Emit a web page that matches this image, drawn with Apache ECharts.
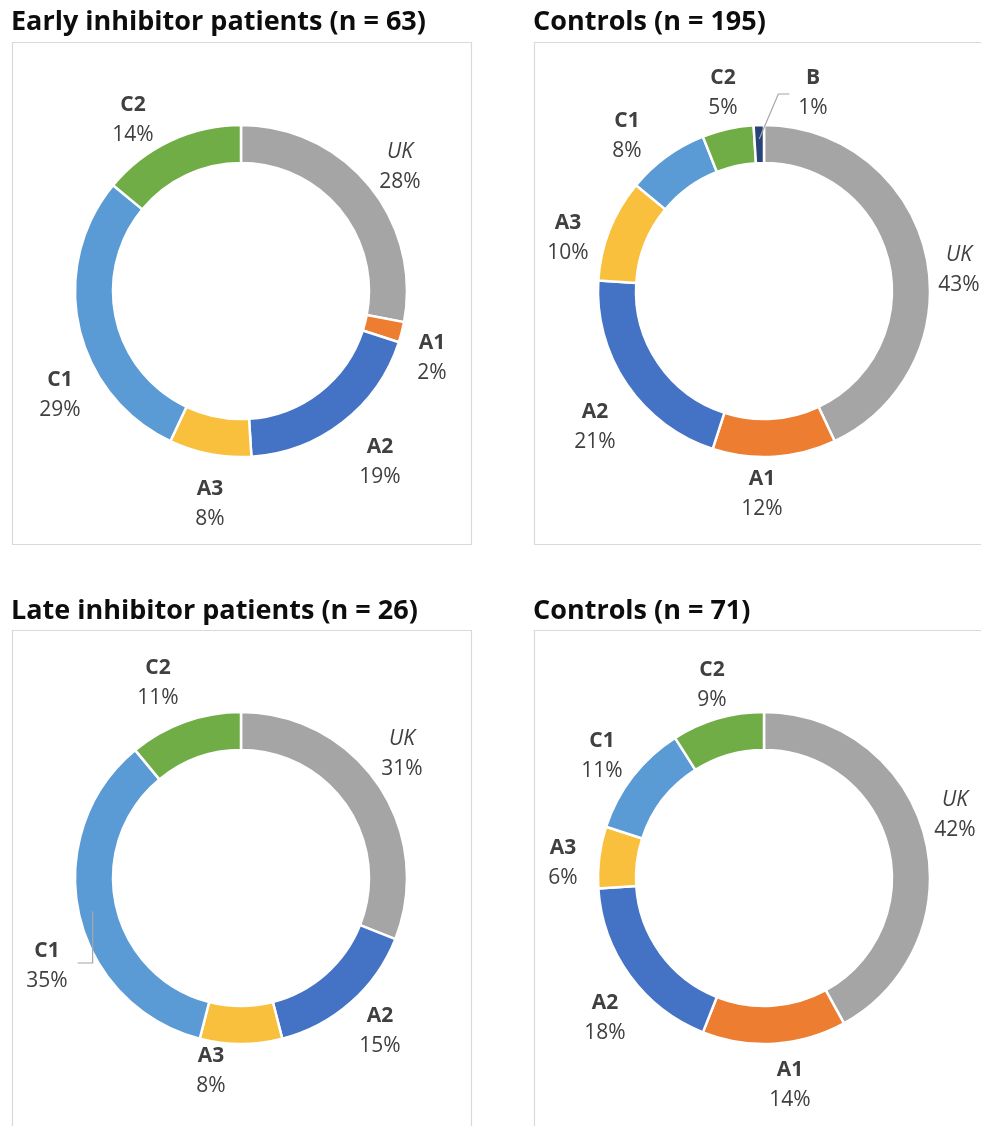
<!DOCTYPE html>
<html><head><meta charset="utf-8">
<script src="https://cdn.jsdelivr.net/npm/echarts@6/dist/echarts.min.js"></script>
<style>html,body{margin:0;padding:0;background:#fff}#c{width:981px;height:1126px}</style>
</head><body><div id="c"></div>
<script>
// ---- data ----
const panelTitles = ['Early inhibitor patients (n = 63)', 'Controls (n = 195)', 'Late inhibitor patients (n = 26)', 'Controls (n = 71)'];
const earlyNames = ['UK', 'A1', 'A2', 'A3', 'C1', 'C2'];
const earlyValues = [28, 2, 19, 8, 29, 14];
const ctrlEarlyNames = ['UK', 'A1', 'A2', 'A3', 'C1', 'C2', 'B'];
const ctrlEarlyValues = [43, 12, 21, 10, 8, 5, 1];
const lateNames = ['UK', 'A2', 'A3', 'C1', 'C2'];
const lateValues = [31, 15, 8, 35, 11];
const ctrlLateNames = ['UK', 'A1', 'A2', 'A3', 'C1', 'C2'];
const ctrlLateValues = [42, 14, 18, 6, 11, 9];

const allNames = [earlyNames, ctrlEarlyNames, lateNames, ctrlLateNames];
const allValues = [earlyValues, ctrlEarlyValues, lateValues, ctrlLateValues];

// ---- styling / layout ----
const colors = { UK: '#A5A5A5', A1: '#ED7D31', A2: '#4472C4', A3: '#F9C03D', C1: '#5B9BD5', C2: '#70AD47', B: '#264478' };
const centers = [[241, 291], [764, 291], [241, 878], [764, 878]];
const radii = [128, 166];
const boxes = [[12.5, 42.5, 459, 502], [534.5, 42.5, 470, 502], [12.5, 630.5, 459, 520], [534.5, 630.5, 470, 520]];
const titlePos = [[11, 22], [533, 22], [11, 611], [533, 611]];
const FONT = '"Open Sans", "Noto Sans", sans-serif';
// hand-placed label positions (offset of label block centre from the doughnut centre), as in the source figure
const labelOffsets = [
  { UK: [159, -124], A1: [191, 67], A2: [139, 171], A3: [-31, 213], C1: [-181, 104], C2: [-108, -171] },
  { UK: [195, -21], A1: [-2, 203], A2: [-169, 136], A3: [-196, -53], C1: [-137, -155], C2: [-41, -198], B: [49, -198] },
  { UK: [161, -124], A2: [139, 153], A3: [-30, 193], C1: [-194, 88], C2: [-83, -195] },
  { UK: [191, -63], A1: [26, 207], A2: [-159, 140], A3: [-201, -15], C1: [-162, -122], C2: [-52, -193] }
];
const leaders = { '1:B': 'right', '2:C1': 'left' };

function midDir(si, idx) {
  const vals = allValues[si];
  const tot = vals.reduce((a, b) => a + b, 0);
  let cum = 0;
  for (let i = 0; i < idx; i++) cum += vals[i];
  const a = (cum + vals[idx] / 2) / tot * Math.PI * 2;
  return [Math.sin(a), -Math.cos(a)];
}

function makeLayout(si) {
  return function (p) {
    const c = centers[si];
    let ux, uy, R;
    if (p.labelLinePoints && p.labelLinePoints.length) {
      const p0 = p.labelLinePoints[0];
      ux = p0[0] - c[0]; uy = p0[1] - c[1];
      R = Math.hypot(ux, uy); ux /= R; uy /= R;
    } else {
      const d = midDir(si, p.dataIndex); ux = d[0]; uy = d[1]; R = radii[1];
    }
    const w = p.labelRect.width, h = p.labelRect.height;
    const name = allNames[si][p.dataIndex];
    const off = labelOffsets[si][name];
    let x, y;
    if (off) { x = c[0] + off[0]; y = c[1] + off[1]; }
    else {
      const t = R + 14 + Math.abs(ux) * w / 2 + Math.abs(uy) * (h / 2 - 7);
      x = c[0] + ux * t; y = c[1] + uy * t;
    }
    const res = { x: x, y: y, align: 'center', verticalAlign: 'middle' };
    const ld = leaders[si + ':' + name];
    if (ld) {
      const start = [c[0] + ux * (R - 14), c[1] + uy * (R - 14)];
      if (ld === 'right') {
        const end = [x - w / 2 - 9, y + 1];
        res.labelLinePoints = [start, [end[0] - 11, end[1]], end];
      } else {
        const end = [x + w / 2 + 10, y - 3];
        res.labelLinePoints = [start, [start[0], end[1]], end];
      }
    }
    return res;
  };
}

function baseSeries(si) {
  return {
    type: 'pie',
    center: centers[si],
    radius: radii,
    startAngle: 90,
    clockwise: true,
    avoidLabelOverlap: false,
    animation: false,
    silent: true
  };
}

const ringSeries = allNames.map(function (names, si) {
  return Object.assign(baseSeries(si), {
    z: 3,
    itemStyle: { borderColor: '#ffffff', borderWidth: 2.5 },
    label: { show: false },
    labelLine: { show: false },
    data: names.map(function (nm, i) {
      return { name: nm, value: allValues[si][i], itemStyle: { color: colors[nm] } };
    })
  });
});

const labelSeries = allNames.map(function (names, si) {
  return Object.assign(baseSeries(si), {
    z: 5,
    itemStyle: { color: 'rgba(0,0,0,0)', borderWidth: 0 },
    label: {
      show: true,
      position: 'outside',
      fontFamily: FONT,
      formatter: function (prm) {
        const n = prm.name === 'UK' ? '{ni|UK}' : '{n|' + prm.name + '}';
        return n + '\n{p|' + prm.value + '%}';
      },
      rich: {
        n: { fontFamily: FONT, fontSize: 21, fontWeight: 'bold', color: '#404040', lineHeight: 30, align: 'center' },
        ni: { fontFamily: FONT, fontSize: 21, fontStyle: 'italic', color: '#404040', lineHeight: 30, align: 'center' },
        p: { fontFamily: FONT, fontSize: 21, color: '#404040', lineHeight: 30, align: 'center' }
      }
    },
    labelLine: { show: true, length: 8, length2: 4, minTurnAngle: 0, maxSurfaceAngle: 180, lineStyle: { opacity: 0, width: 1 } },
    labelLayout: makeLayout(si),
    data: names.map(function (nm, i) {
      const item = { name: nm, value: allValues[si][i] };
      if (leaders[si + ':' + nm]) item.labelLine = { show: true, lineStyle: { opacity: 1, color: '#A6A6A6', width: 1.2 } };
      return item;
    })
  });
});

const graphics = boxes.map(function (b) {
  return { type: 'rect', z: 0, silent: true, shape: { x: b[0], y: b[1], width: b[2], height: b[3] }, style: { fill: 'none', stroke: '#D9D9D9', lineWidth: 1.2 } };
}).concat(panelTitles.map(function (t, i) {
  return { type: 'text', z: 1, silent: true, x: titlePos[i][0], y: titlePos[i][1],
    style: { text: t, font: 'bold 27px ' + FONT, fill: '#0D0D0D', textVerticalAlign: 'middle', verticalAlign: 'middle' } };
}));

const chart = echarts.init(document.getElementById('c'), null, { renderer: 'canvas' });
chart.setOption({ backgroundColor: '#ffffff', animation: false, graphic: graphics, series: ringSeries.concat(labelSeries) });
</script></body></html>
